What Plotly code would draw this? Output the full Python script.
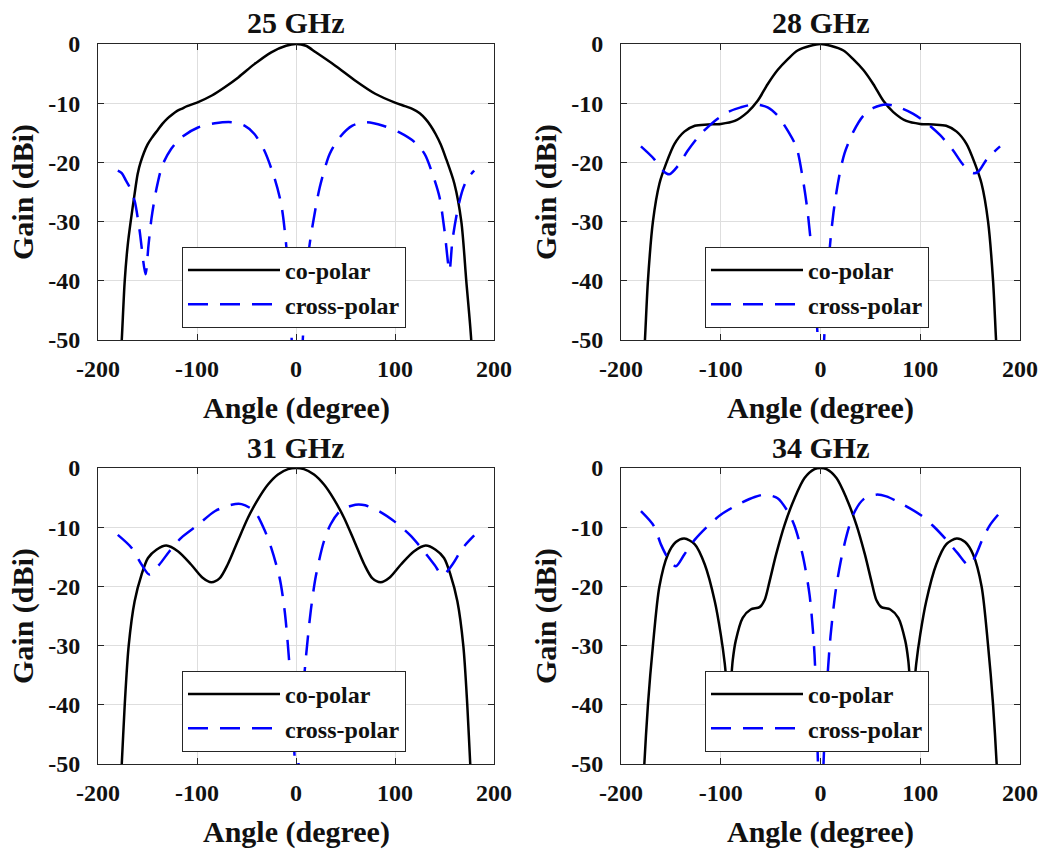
import plotly.graph_objects as go

FONT = "Liberation Serif"

# ---- radiation pattern data (angle in degrees, gain in dBi) ----
# 25 GHz
ang_25_co = [-180, -176, -173, -170, -167, -163, -160, -157, -150, -145, -140, -135, -130, -125, -120, -115, -110,
             -100, -85, -72, -58, -42, -25, -10, 0, 10, 20, 40, 60, 80, 100, 110, 118, 125, 131, 136, 141, 146,
             151, 160, 167, 172, 177, 180]
gain_25_co = [-62, -50, -40, -34, -30, -25.3, -22, -20, -17, -15.7, -14.6, -13.5, -12.6, -11.9, -11.3, -10.9, -10.5,
              -9.9, -8.7, -7.3, -5.6, -3.4, -1.4, -0.3, 0, -0.3, -1.4, -3.7, -6.2, -8.4, -9.9, -10.5, -11, -11.7,
              -12.7, -13.8, -15.2, -16.9, -19.1, -23.6, -30, -40, -50, -62]
ang_25_x = [-180, -176, -172, -168, -163, -158, -152, -149, -146, -141, -135, -126, -116, -99, -82, -65, -52, -42,
            -32, -22, -15, -10, -5, 0, 4, 7, 13, 17, 24, 34, 44, 57, 71, 88, 104, 120, 130, 138, 145, 150, 155,
            158, 163, 168, 173, 180]
gain_25_x = [-21.4, -21.8, -23, -24.2, -26.5, -31.5, -38.9, -34, -29.5, -24.5, -20.5, -17.7, -15.8, -14.1, -13.4,
             -13.2, -13.8, -15.2, -18, -22.5, -27, -33.8, -47.3, -70, -60, -49.5, -34.9, -30.4, -24.2, -18.6,
             -15.8, -13.8, -13.2, -13.8, -14.9, -16.6, -18.6, -22, -25.9, -31.5, -38.3, -33.2, -28.2, -24.8,
             -22.8, -21.4]

# 28 GHz
ang_28_co = [-180, -176, -173, -168, -161.5, -155, -146.5, -136.5, -126, -113, -100, -86, -73, -63, -53, -43, -33,
             -23, -10, 0, 10, 23, 33, 43, 53, 63, 73, 86, 100, 113, 126, 136.5, 146.5, 155, 161.5, 168, 173, 176,
             180]
gain_28_co = [-62, -50, -40, -30, -23.6, -20.3, -16.9, -14.8, -13.8, -13.6, -13.5, -13, -11.5, -9.6, -6.8, -4.4,
              -2.6, -1.1, -0.3, 0, -0.3, -1.1, -2.6, -4.4, -6.8, -9.6, -11.5, -13, -13.5, -13.6, -13.8, -14.8,
              -16.9, -20.3, -23.6, -30, -40, -50, -62]
ang_28_x = [-180, -167, -158, -151.5, -143, -133, -120, -106, -93, -80, -66, -53, -43, -33, -24, -18, -13, -9, -3,
            0, 3, 9, 13, 18, 24, 33, 43, 53, 66, 80, 93, 106, 120, 133, 143, 153, 158, 167, 180]
gain_28_x = [-17.3, -19.4, -21.4, -22, -20.6, -18, -15.2, -13, -11.5, -10.7, -10.2, -10.7, -12.1, -14.6, -17.5,
             -22.5, -28.2, -34.9, -49, -65, -52, -35, -28.5, -23, -18.5, -14.8, -12.1, -10.8, -10.2, -10.8, -11.8,
             -13.3, -15.4, -18, -20.4, -21.8, -21.6, -19.4, -17.3]

# 31 GHz
ang_31_co = [-180, -176, -173, -169, -163, -156, -149.5, -141, -131, -119, -106, -94, -85.5, -77, -69, -59, -48.5,
             -38.4, -28.3, -18.2, -8, 0, 8, 18.2, 28.3, 38.4, 48.5, 59, 69, 77, 85.5, 94, 106, 119, 131, 141,
             149.5, 156, 163, 169, 173, 176, 180]
gain_31_co = [-62, -50, -40, -30, -22.5, -18, -15.2, -13.8, -13.1, -14.1, -16.3, -18.6, -19.3, -18.6, -16.3, -12.4,
              -8.4, -5.3, -2.8, -1.1, -0.2, 0, -0.2, -1.1, -2.8, -5.3, -8.4, -12.4, -16.3, -18.6, -19.3, -18.6,
              -16.3, -14.1, -13.1, -13.8, -15.2, -18, -22.5, -30, -40, -50, -62]
ang_31_x = [-180, -166, -156, -148, -138, -128, -116, -99, -82, -65, -55, -42, -32, -25, -16.5, -11.4, -6.4, -1.4,
            0, 2.5, 6, 10, 15, 20, 28, 35, 45, 60, 70, 85, 100, 115, 128, 140, 148, 158, 168, 180]
gain_31_x = [-11.3, -13.5, -16.3, -18, -16.3, -14.1, -11.8, -9.6, -7.3, -6.2, -6.1, -7.3, -10.4, -13.5, -18.6,
             -24.2, -33.8, -49, -60, -50, -40, -32, -24, -18.3, -12.5, -9.5, -7.2, -6.2, -6.3, -7.4, -9.1, -11.3,
             -13.8, -16.4, -18.1, -16.3, -13.6, -11.4]

# 34 GHz
ang_34_co = [-180, -176.6, -173, -168, -161.5, -153, -145, -136.5, -126, -116, -106, -100, -96, -94, -92, -90,
             -88, -85, -78, -70, -61, -56, -51, -44.5, -36, -26, -16, -6, 0, 6, 16, 26, 36, 44.5, 51, 56, 61, 70,
             78, 85, 88, 90, 92, 94, 96, 100, 106, 116, 126, 136.5, 145, 153, 161.5, 168, 173, 176.6, 180]
gain_34_co = [-62, -50, -40, -30, -20, -14.6, -12.5, -11.9, -12.9, -16.3, -22.5, -28.1, -33, -36.5, -39, -36.5,
              -32.5, -29.2, -25.3, -23.9, -23.5, -22.3, -19.1, -14.6, -9.6, -5.1, -1.7, -0.2, 0, -0.2, -1.7, -5.1,
              -9.6, -14.6, -19.1, -22.3, -23.5, -23.9, -25.3, -29.2, -32.5, -36.5, -39, -36.5, -33, -28.1, -22.5,
              -16.3, -12.9, -11.9, -12.5, -14.6, -20, -30, -40, -50, -62]
ang_34_x = [-180, -167, -160, -153, -145, -136.5, -126, -113, -100, -83, -66, -56, -43, -33, -26, -18, -11, -6,
            -2.7, 0, 3, 6, 10, 15, 20, 26, 33, 43, 56, 66, 83, 100, 113, 126, 137, 149, 155, 162, 170, 180]
gain_34_x = [-7.3, -9.8, -12.9, -15.2, -16.6, -14.6, -12.1, -9.8, -7.9, -6.2, -4.9, -4.5, -5.1, -7.3, -9.8, -14.6,
             -21.4, -31.5, -49, -62, -50, -38, -28.5, -21, -16, -11.5, -7.8, -5.3, -4.5, -4.8, -6.2, -7.9, -9.8,
             -12.1, -14.3, -16.5, -15, -12.2, -9.6, -7.5]

titles = ["25 GHz", "28 GHz", "31 GHz", "34 GHz"]
series = [
    (ang_25_co, gain_25_co, ang_25_x, gain_25_x),
    (ang_28_co, gain_28_co, ang_28_x, gain_28_x),
    (ang_31_co, gain_31_co, ang_31_x, gain_31_x),
    (ang_34_co, gain_34_co, ang_34_x, gain_34_x),
]

angle_ticks = [-200, -100, 0, 100, 200]
gain_ticks = [0, -10, -20, -30, -40, -50]


def bold(s):
    return f"<b>{s}</b>"


W, H = 1049, 851
col_dom = [[98 / W, 494 / W], [621 / W, 1020 / W]]
row_dom = [[1 - 340 / H, 1 - 44 / H], [1 - 764 / H, 1 - 468 / H]]

fig = go.Figure()
layout = dict(
    width=W, height=H, margin=dict(l=0, r=0, t=0, b=0),
    paper_bgcolor="white", plot_bgcolor="white",
    annotations=[],
)

for i, (title, (ca, cg, xa, xg)) in enumerate(zip(titles, series)):
    r, c = divmod(i, 2)
    sfx = "" if i == 0 else str(i + 1)
    leg = "legend" + sfx
    fig.add_trace(go.Scatter(
        x=ca, y=cg, mode="lines", name=bold("co-polar"),
        line=dict(color="black", width=2.5, shape="spline", smoothing=0.8),
        xaxis="x" + sfx, yaxis="y" + sfx, legend=leg))
    fig.add_trace(go.Scatter(
        x=xa, y=xg, mode="lines", name=bold("cross-polar"),
        line=dict(color="#0000ff", width=2.5, dash="20px,12px", shape="spline", smoothing=0.8),
        xaxis="x" + sfx, yaxis="y" + sfx, legend=leg))

    axis_common = dict(
        showline=True, mirror="ticks", linecolor="#262626", linewidth=1,
        ticks="inside", ticklen=6, tickcolor="#262626", tickwidth=1,
        showgrid=True, gridcolor="#dedede", gridwidth=1, zeroline=False,
        tickfont=dict(family=FONT, size=24),
        automargin=False,
    )
    layout["xaxis" + sfx] = dict(axis_common, domain=col_dom[c], anchor="y" + sfx,
                                 range=[-200, 200], tickvals=angle_ticks,
                                 ticktext=[bold(str(v)) for v in angle_ticks],
                                 ticklabelstandoff=7)
    # trailing non-breaking spaces keep the gain labels clear of the axis line
    layout["yaxis" + sfx] = dict(axis_common, domain=row_dom[r], anchor="x" + sfx,
                                 range=[-50, 0], tickvals=gain_ticks,
                                 ticktext=[bold(str(v)) + "\u00a0\u00a0" for v in gain_ticks])

    xmid = (col_dom[c][0] + col_dom[c][1]) / 2
    ytop = row_dom[r][1]
    ybot = row_dom[r][0]
    layout["annotations"] += [
        dict(text=bold(title), x=xmid, y=ytop + 21 / H, xref="paper", yref="paper", showarrow=False,
             xanchor="center", yanchor="middle", font=dict(family=FONT, size=30)),
        dict(text=bold("Angle (degree)"), x=xmid, y=ybot - 68 / H, xref="paper", yref="paper",
             showarrow=False, xanchor="center", yanchor="middle", font=dict(family=FONT, size=30)),
        dict(text=bold("Gain (dBi)"), x=col_dom[c][0] - 75 / W, y=(row_dom[r][0] + row_dom[r][1]) / 2,
             xref="paper", yref="paper", showarrow=False, textangle=-90,
             xanchor="center", yanchor="middle", font=dict(family=FONT, size=30)),
    ]
    layout[leg] = dict(
        x=col_dom[c][0] + 84 / W, y=ybot + 93 / H, xanchor="left", yanchor="top",
        bgcolor="white", bordercolor="#262626", borderwidth=1,
        font=dict(family=FONT, size=24),
        itemwidth=92, tracegroupgap=0,
    )

fig.update_layout(**layout)
fig.update_layout(font_color="#111111")
fig.write_html("out.html")
